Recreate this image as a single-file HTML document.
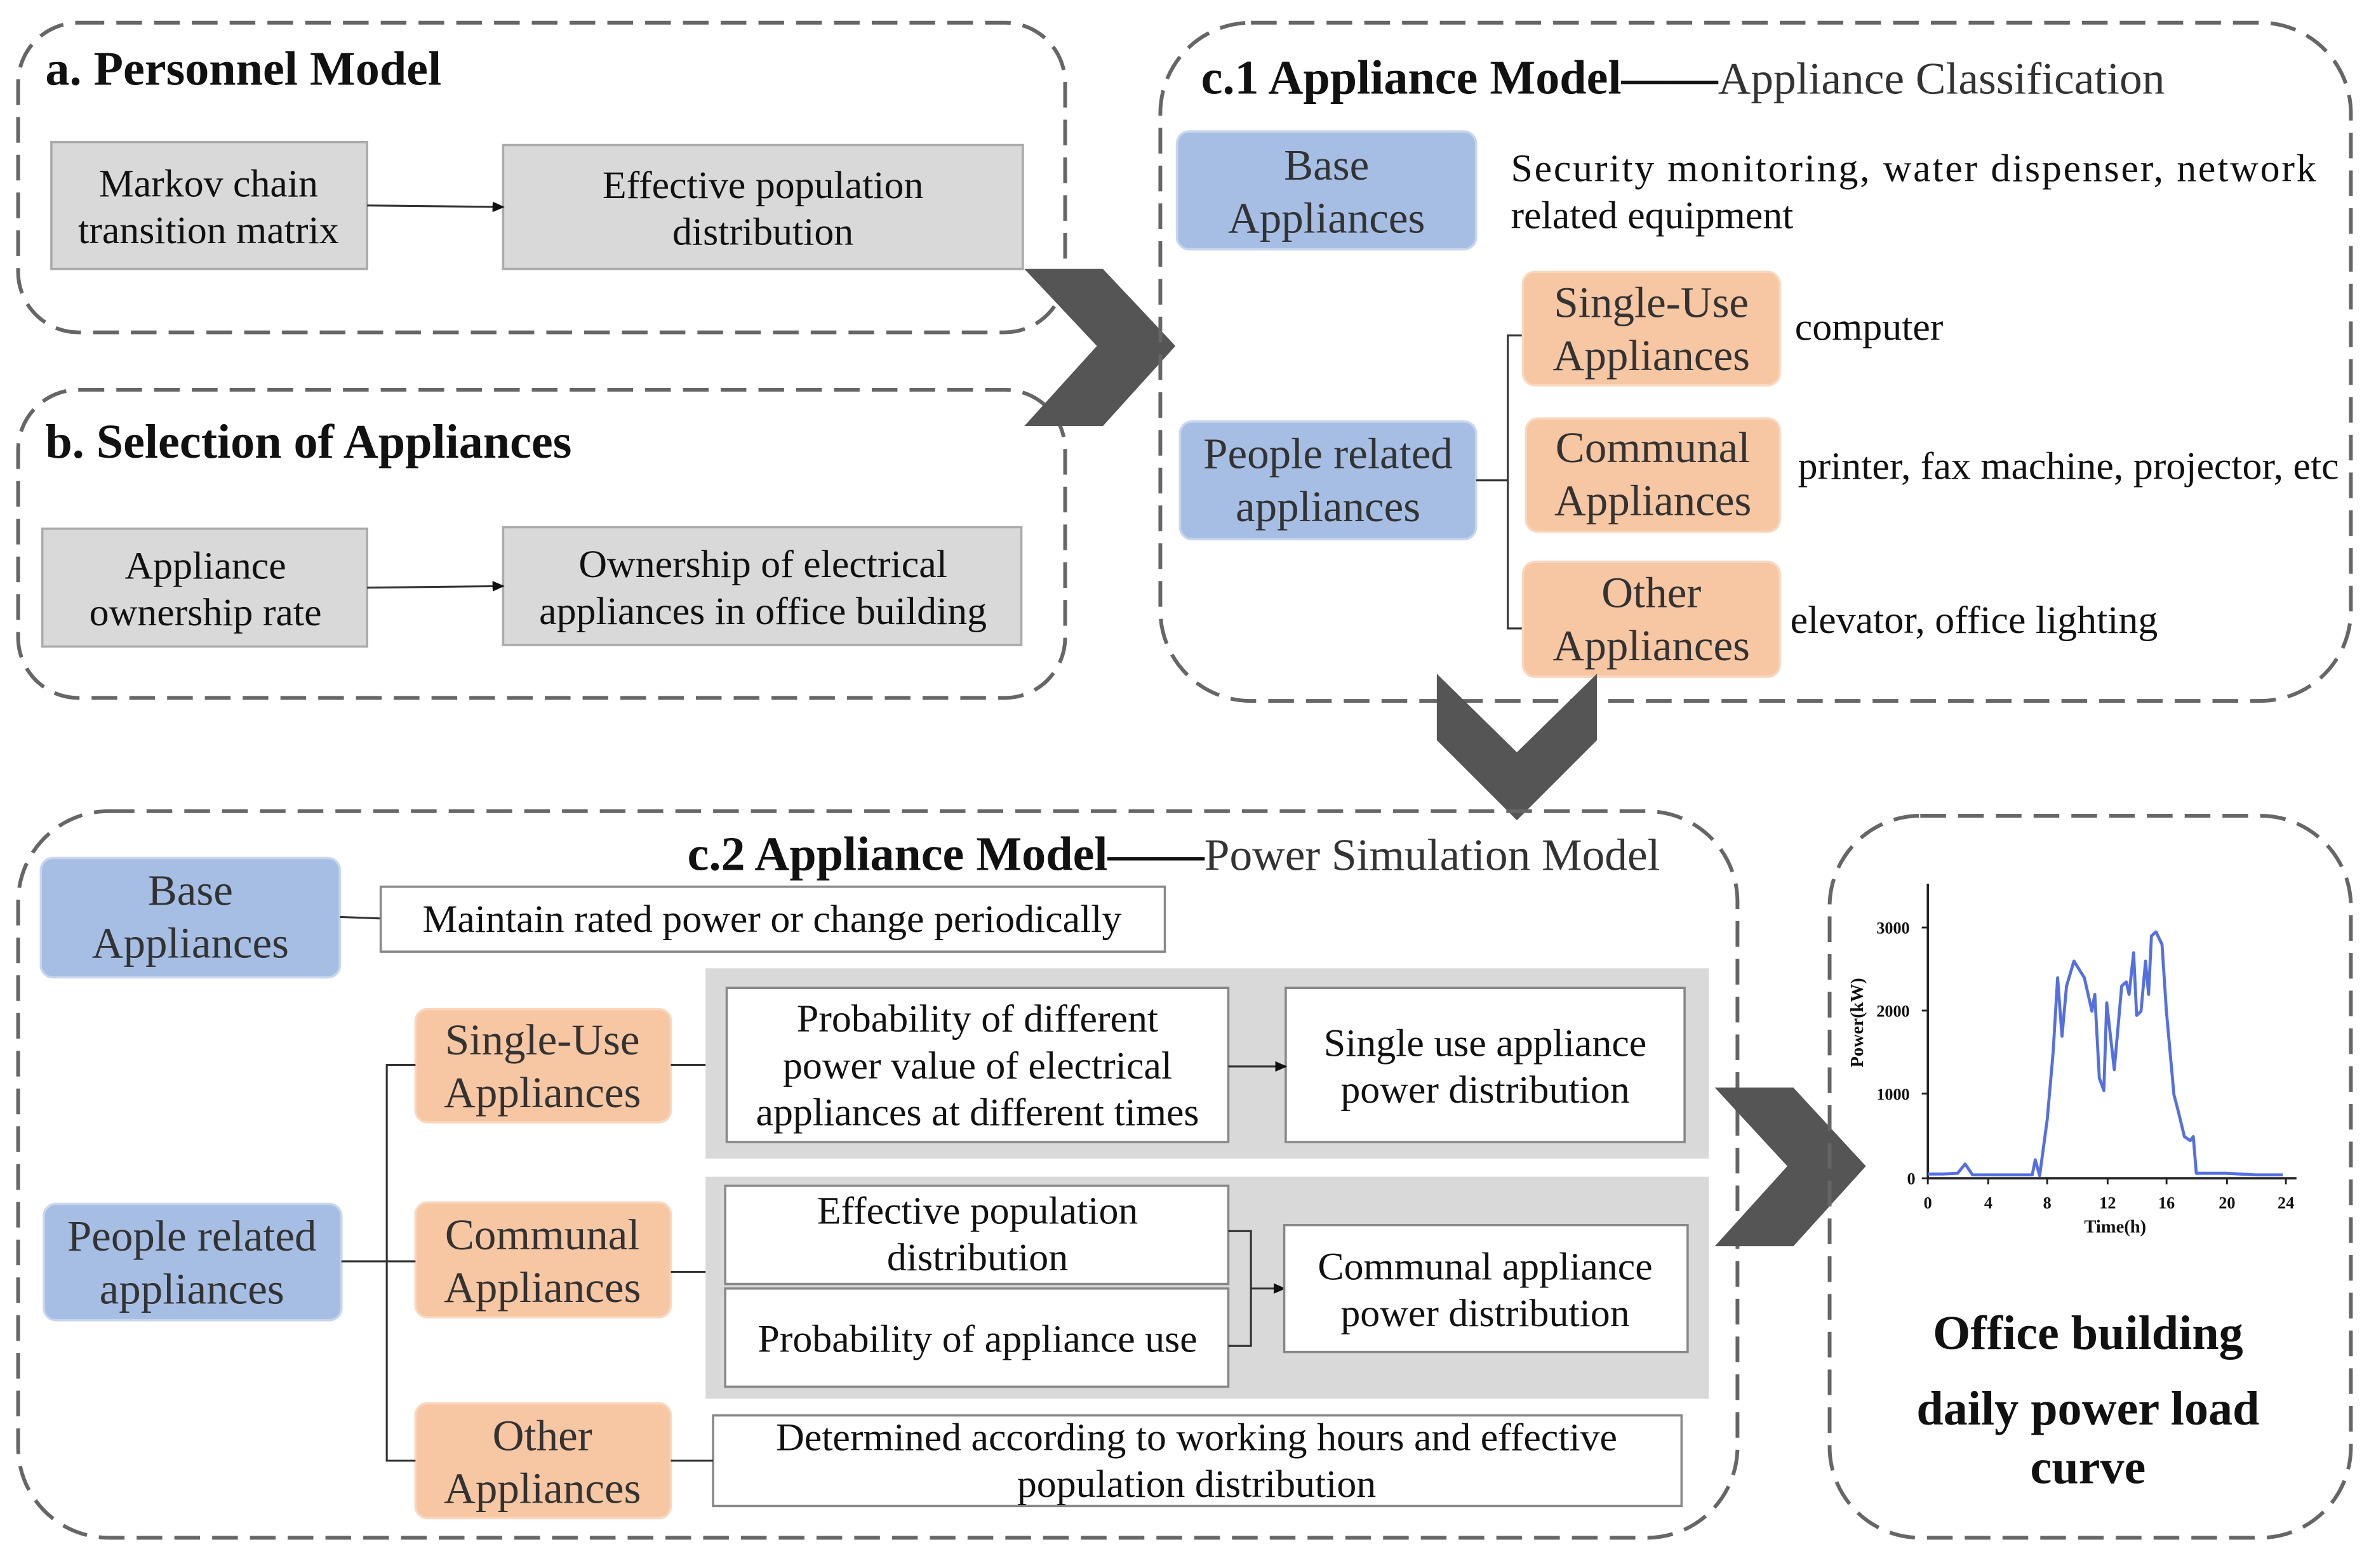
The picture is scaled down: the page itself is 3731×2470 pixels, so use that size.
<!DOCTYPE html>
<html><head><meta charset="utf-8"><style>
html,body{margin:0;padding:0;background:#fff;}
svg{display:block;}
svg text{font-family:"Liberation Serif","DejaVu Serif",serif !important;fill:#111;}
.t{font-size:26px;text-anchor:middle;}
.c{font-size:29px;text-anchor:middle;fill:#333;}
.h{font-size:32px;font-weight:bold;}
.p{fill:none;stroke:#666;stroke-width:2.5;stroke-dasharray:17 8;}
.g{fill:#d9d9d9;stroke:#aaa;stroke-width:1.5;}
.w{fill:#fff;stroke:#888;stroke-width:1.5;}
.b{fill:#a6bee4;stroke:#c8d6ee;stroke-width:1.5;}
.o{fill:#f7c6a3;stroke:#f9d7be;stroke-width:1.5;}
.l{stroke:#333;stroke-width:1.3;fill:none;}
.ax{font-size:11px;font-weight:bold;text-anchor:middle;}
</style></head><body>
<svg width="3731" height="2470" viewBox="0 0 1568 1038" xmlns="http://www.w3.org/2000/svg" font-family="Liberation Serif, serif">
<defs><marker id="ar" markerWidth="8" markerHeight="8" refX="7" refY="4" orient="auto" markerUnits="userSpaceOnUse"><path d="M0,0.5 L8,4 L0,7.5z" fill="#111"/></marker></defs>

<rect class="p" x="12" y="15" width="693" height="205" rx="40"/>
<text class="h" x="30" y="56">a. Personnel Model</text>
<rect class="g" x="34" y="94" width="209" height="84"/>
<text class="t" x="138" y="130">Markov chain</text><text class="t" x="138" y="161">transition matrix</text>
<rect class="g" x="333" y="96" width="344" height="82"/>
<text class="t" x="505" y="131">Effective population</text><text class="t" x="505" y="162">distribution</text>
<line class="l" x1="243" y1="136" x2="333" y2="137" marker-end="url(#ar)"/>

<rect class="p" x="12" y="258" width="693" height="204" rx="40"/>
<text class="h" x="30" y="303">b. Selection of Appliances</text>
<rect class="g" x="28" y="350" width="215" height="78"/>
<text class="t" x="136" y="383">Appliance</text><text class="t" x="136" y="414">ownership rate</text>
<rect class="g" x="333" y="349" width="343" height="78"/>
<text class="t" x="505" y="382">Ownership of electrical</text><text class="t" x="505" y="413">appliances in office building</text>
<line class="l" x1="243" y1="389" x2="333" y2="388" marker-end="url(#ar)"/>

<polygon points="678,178 730,178 778,229 730,282 678,282 726,229" fill="#555"/>

<rect class="p" x="768" y="15" width="788" height="449" rx="60"/>
<text x="795" y="62" font-size="32"><tspan font-weight="bold">c.1 Appliance Model——</tspan><tspan font-size="30" fill="#333">Appliance Classification</tspan></text>
<rect class="b" x="779" y="87" width="198" height="78" rx="8"/>
<text class="c" x="878" y="119">Base</text><text class="c" x="878" y="154">Appliances</text>
<text x="1000" y="120" font-size="26" textLength="533" lengthAdjust="spacing">Security monitoring, water dispenser, network</text>
<text x="1000" y="151" font-size="26">related equipment</text>
<rect class="b" x="781" y="279" width="196" height="78" rx="8"/>
<text class="c" x="879" y="310">People related</text><text class="c" x="879" y="345">appliances</text>
<path class="l" d="M977,318 H998 M1008,222 H998 V416 H1008"/>
<rect class="o" x="1008" y="180" width="170" height="75" rx="8"/>
<text class="c" x="1093" y="210">Single-Use</text><text class="c" x="1093" y="245">Appliances</text>
<rect class="o" x="1010" y="277" width="168" height="75" rx="8"/>
<text class="c" x="1094" y="306">Communal</text><text class="c" x="1094" y="341">Appliances</text>
<rect class="o" x="1008" y="372" width="170" height="76" rx="8"/>
<text class="c" x="1093" y="402">Other</text><text class="c" x="1093" y="437">Appliances</text>
<text x="1188" y="225" font-size="26">computer</text>
<text x="1190" y="317" font-size="26">printer, fax machine, projector, etc</text>
<text x="1185" y="419" font-size="26">elevator, office lighting</text>

<polygon points="951,446 1004,498 1057,446 1057,490 1004,543 951,490" fill="#555"/>

<rect class="p" x="12" y="537" width="1138" height="481" rx="60"/>
<text x="455" y="576" font-size="32"><tspan font-weight="bold">c.2 Appliance Model——</tspan><tspan font-size="30" fill="#333">Power Simulation Model</tspan></text>
<rect class="b" x="27" y="568" width="198" height="79" rx="8"/>
<text class="c" x="126" y="599">Base</text><text class="c" x="126" y="634">Appliances</text>
<line class="l" x1="225" y1="607" x2="252" y2="608"/>
<rect class="w" x="252" y="587" width="519" height="43"/>
<text class="t" x="511" y="617">Maintain rated power or change periodically</text>

<rect x="467" y="641" width="664" height="126" fill="#d9d9d9"/>
<rect x="467" y="779" width="664" height="147" fill="#d9d9d9"/>
<rect class="w" x="481" y="654" width="332" height="102"/>
<text class="t" x="647" y="683">Probability of different</text>
<text class="t" x="647" y="714">power value of electrical</text>
<text class="t" x="647" y="745">appliances at different times</text>
<rect class="w" x="851" y="654" width="264" height="102"/>
<text class="t" x="983" y="699">Single use appliance</text><text class="t" x="983" y="730">power distribution</text>
<line class="l" x1="813" y1="706" x2="851" y2="706" marker-end="url(#ar)"/>

<rect class="w" x="480" y="785" width="333" height="65"/>
<text class="t" x="647" y="810">Effective population</text><text class="t" x="647" y="841">distribution</text>
<rect class="w" x="480" y="853" width="333" height="65"/>
<text class="t" x="647" y="895">Probability of appliance use</text>
<path class="l" d="M813,815 H828 V891 H813"/>
<line class="l" x1="828" y1="853" x2="850" y2="853" marker-end="url(#ar)"/>
<rect class="w" x="850" y="811" width="267" height="84"/>
<text class="t" x="983" y="847">Communal appliance</text><text class="t" x="983" y="878">power distribution</text>

<rect class="w" x="472" y="937" width="641" height="60"/>
<text class="t" x="792" y="960">Determined according to working hours and effective</text>
<text class="t" x="792" y="991">population distribution</text>

<rect class="o" x="275" y="668" width="169" height="75" rx="8"/>
<text class="c" x="359" y="698">Single-Use</text><text class="c" x="359" y="733">Appliances</text>
<rect class="o" x="275" y="796" width="169" height="76" rx="8"/>
<text class="c" x="359" y="827">Communal</text><text class="c" x="359" y="862">Appliances</text>
<rect class="o" x="275" y="929" width="169" height="76" rx="8"/>
<text class="c" x="359" y="960">Other</text><text class="c" x="359" y="995">Appliances</text>
<rect class="b" x="29" y="797" width="197" height="77" rx="8"/>
<text class="c" x="127" y="828">People related</text><text class="c" x="127" y="863">appliances</text>
<path class="l" d="M226,835 H256 M275,705 H256 V967 H275 M256,835 H275"/>
<path class="l" d="M444,705 H467 M444,842 H467 M444,967 H472"/>

<polygon points="1135,720 1187,720 1235,772 1187,825 1135,825 1183,772" fill="#555"/>

<rect class="p" x="1211" y="540" width="345" height="478" rx="60"/>
<path d="M1276,585 V780 H1520" stroke="#222" stroke-width="1.5" fill="none"/>
<path d="M1272,614 H1276 M1272,669 H1276 M1272,724 H1276 M1272,780 H1276 M1276,780 V784 M1316,780 V784 M1355,780 V784 M1395,780 V784 M1434,780 V784 M1474,780 V784 M1513,780 V784" stroke="#222" stroke-width="1.2"/>
<g class="ax">
<text x="1253" y="618">3000</text><text x="1253" y="673">2000</text><text x="1253" y="728">1000</text><text x="1265" y="784">0</text>
<text x="1276" y="800">0</text><text x="1316" y="800">4</text><text x="1355" y="800">8</text><text x="1395" y="800">12</text><text x="1434" y="800">16</text><text x="1474" y="800">20</text><text x="1513" y="800">24</text>
<text x="1400" y="816" font-size="12">Time(h)</text>
<text transform="translate(1233,677) rotate(-90)" font-size="12">Power(kW)</text>
</g>
<polyline fill="none" stroke="#5470e0" stroke-width="2" stroke-linejoin="round" points="1276,777.2 1285.9,777.2 1295.7,776.7 1300.7,770.6 1305.6,777.8 1345.1,777.8 1347.1,767.8 1350,778.3 1355,741.3 1358.9,697 1361.9,647.3 1364.8,686 1367.8,652.8 1372.7,636.2 1379.6,647.3 1384.6,669.4 1386.5,658.3 1389.5,713.6 1392.5,721.9 1394.4,663.9 1399.4,708.1 1404.3,652.8 1407.3,650 1409.2,658.3 1412.2,630.7 1414.2,672.2 1417.1,669.4 1420.1,636.2 1422.1,658.3 1424,619.6 1427,616.9 1431,625.2 1433.9,669.4 1438.9,724.7 1441.8,735.8 1445.8,752.4 1449.7,755.1 1451.7,752.4 1453.7,776.7 1473.4,776.7 1493.1,777.8 1510.9,777.8"/>
<g font-size="32" font-weight="bold" text-anchor="middle">
<text x="1382" y="893">Office building</text>
<text x="1382" y="943">daily power load</text>
<text x="1382" y="982">curve</text>
</g>
</svg>
</body></html>
